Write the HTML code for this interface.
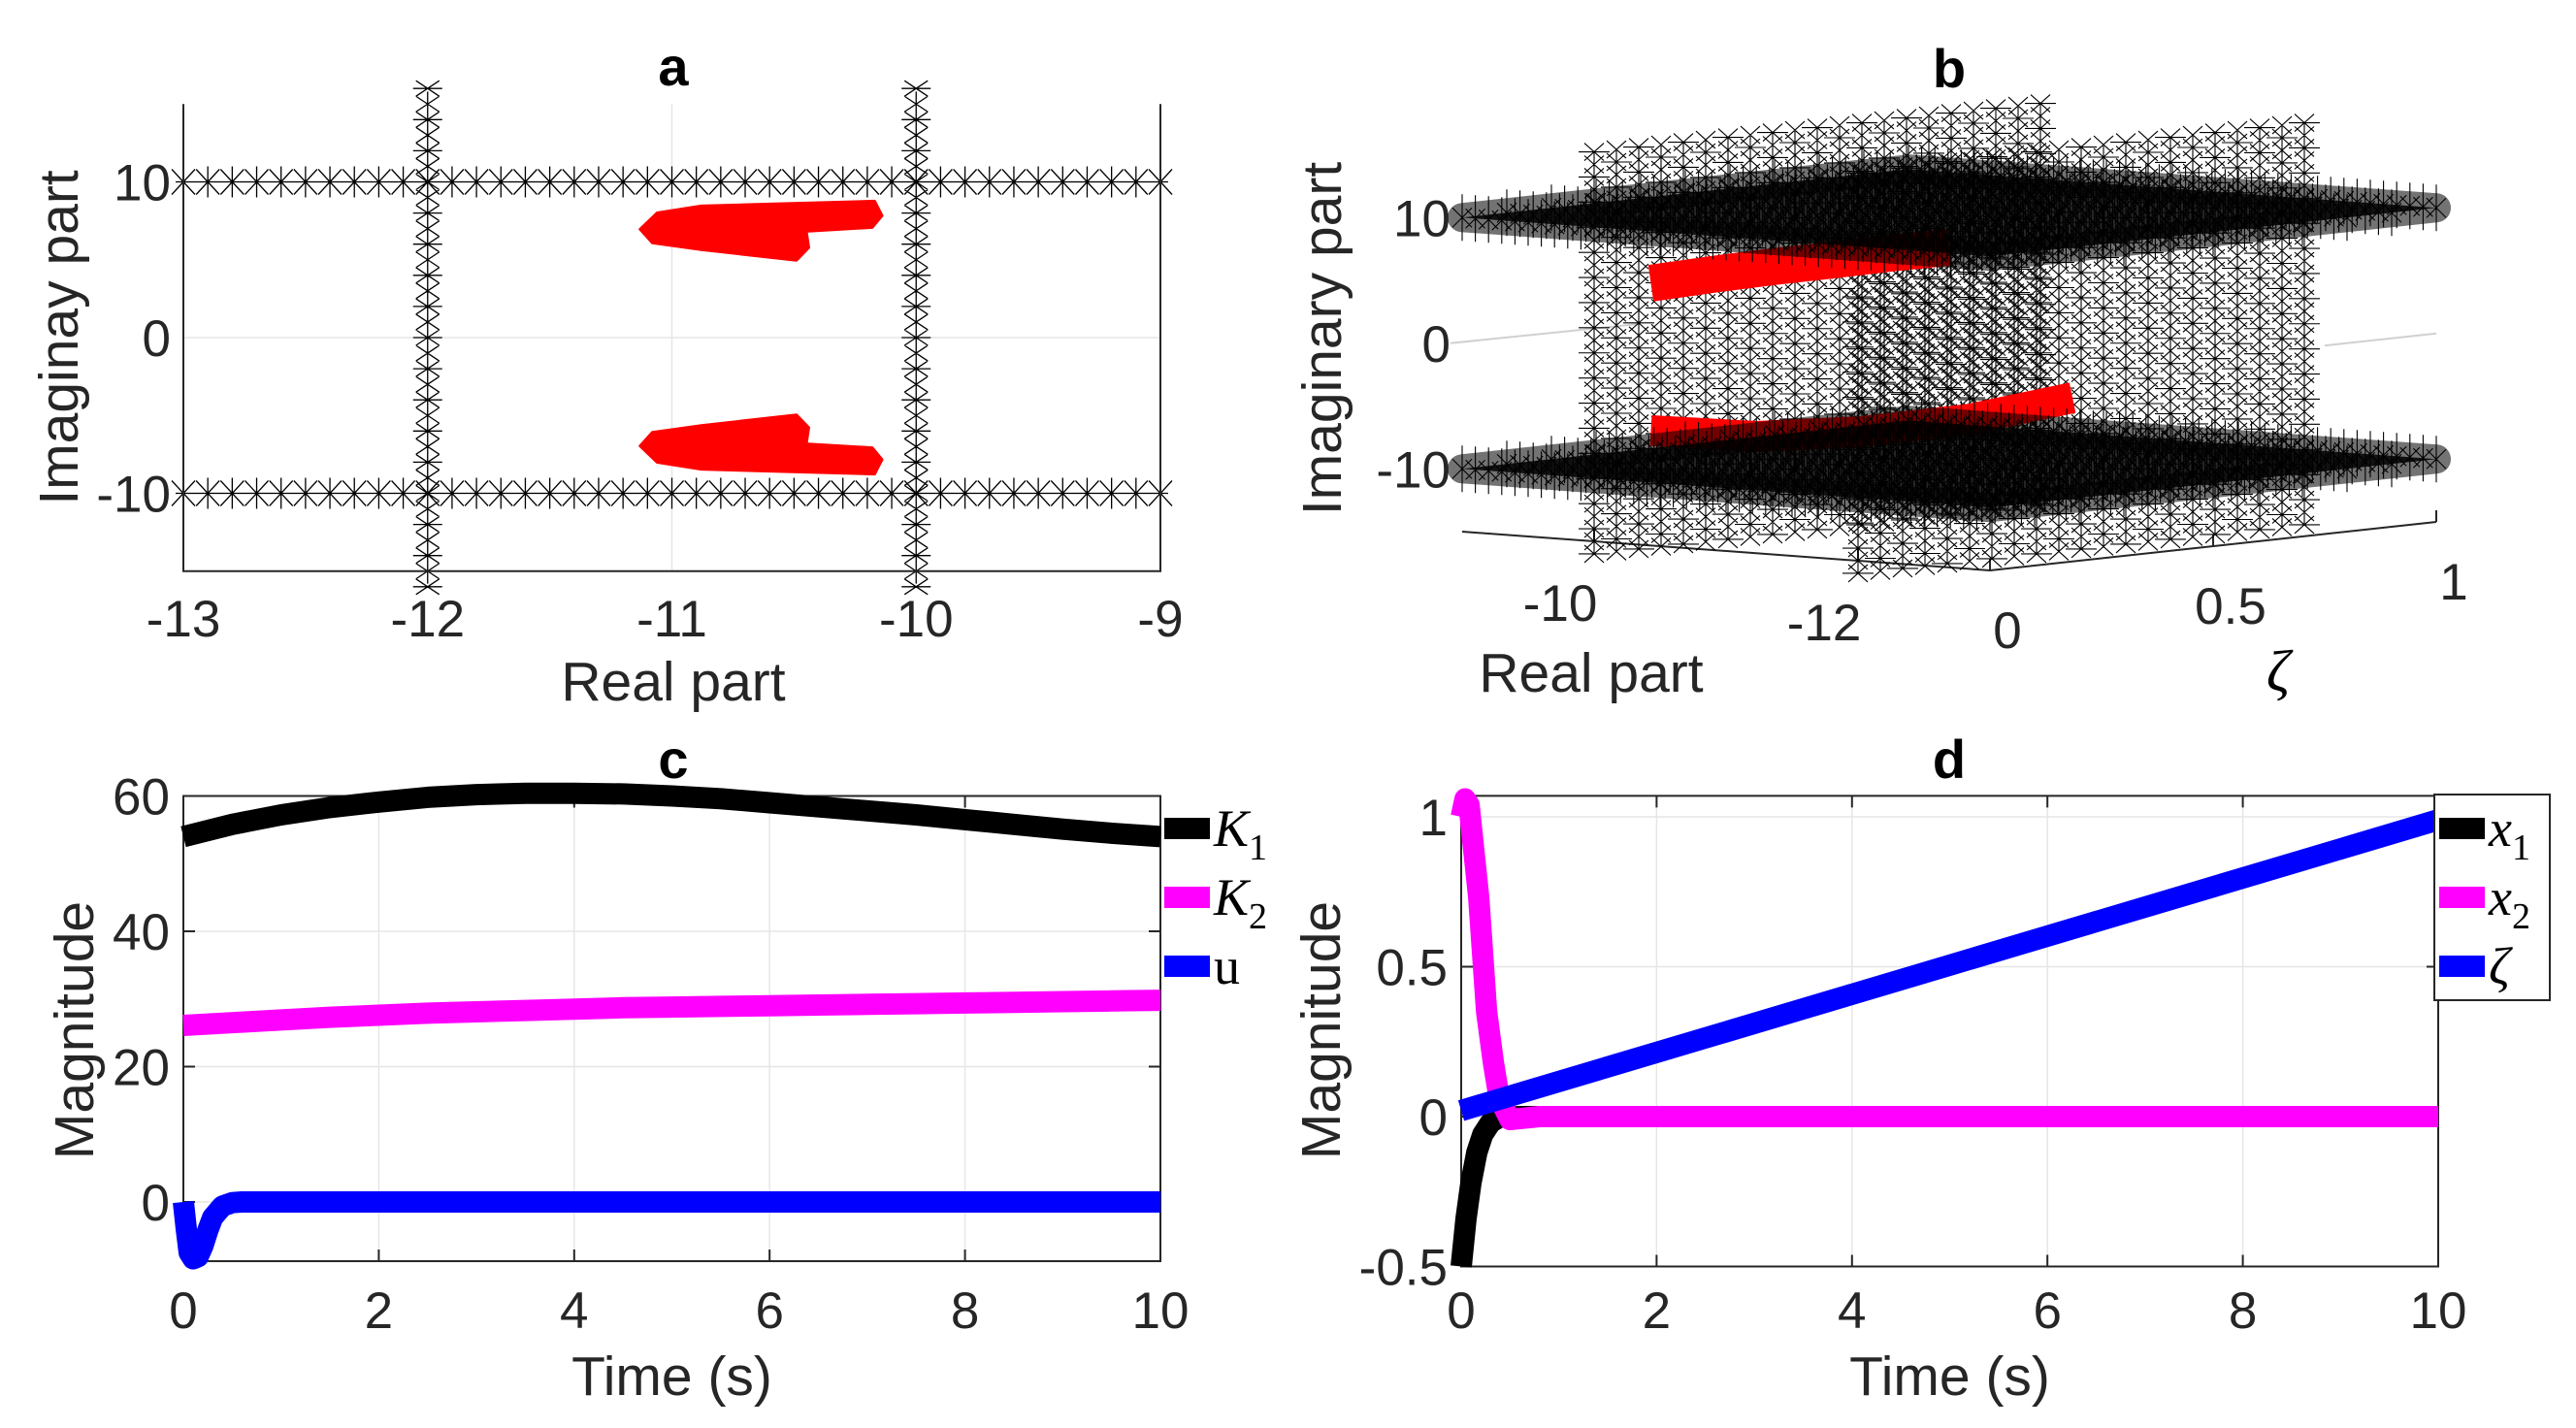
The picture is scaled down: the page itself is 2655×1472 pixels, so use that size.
<!DOCTYPE html>
<html><head><meta charset="utf-8"><style>
html,body{margin:0;padding:0;background:#fff;}
svg{display:block;font-family:"Liberation Sans",sans-serif;}
.tk{font-size:53px;fill:#262626;}
.lb{font-size:57px;fill:#262626;}
.ti{font-size:56px;font-weight:bold;fill:#000;}
.lg{font-family:"Liberation Serif",serif;font-style:italic;font-size:54px;fill:#000;}
.sub{font-family:"Liberation Serif",serif;font-style:normal;font-size:38px;}
</style></head><body>
<svg id="fig" width="2655" height="1472" viewBox="0 0 2655 1472" xmlns="http://www.w3.org/2000/svg">
<g id="pa"></g>
<g id="pb"></g>
<g id="pc"></g>
<g id="pd"></g>
</svg>
<script>
// ---------- data ----------
// panel a
const aXTicks=[-13,-12,-11,-10,-9];
const aYTicks=[-10,0,10];
const aRowImag=[10,-10];
const aColReal=[-12,-10];
const aPoleReal=[-11.13,-11.06,-10.88,-10.17,-10.14,-10.18,-10.45,-10.44,-10.49,-10.88,-11.08];
const aPoleImag=[6.96,8.01,8.45,8.76,7.83,7.08,6.83,5.78,4.97,5.65,6.09];
// panel b
const bRealTicks=[-10,-12];
const bZetaTicks=[0,0.5,1];
const bImTicks=[10,0,-10];
const bPlaneIm=[10,-10];
const bWallRe=[-10,-12];
const bUpZeta=[0,0.1,0.2,0.3,0.4,0.5];
const bUpRe=[-10.43,-10.55,-10.67,-10.79,-10.90,-11.0];
const bUpIm=[5.88,6.27,6.6,6.84,7.09,7.24];
const bLoZeta=[0,0.2,0.4,0.6,0.8];
const bLoRe=[-10.43,-10.55,-10.68,-10.82,-10.92];
const bLoIm=[-5.86,-7.01,-7.29,-6.96,-5.95];
// panel c
const cXTicks=[0,2,4,6,8,10];
const cYTicks=[0,20,40,60];
const cT=[0,0.5,1,1.5,2,2.5,3,3.5,4,4.5,5,5.5,6,6.5,7,7.5,8,8.5,9,9.5,10];
const cK1=[54,55.8,57.2,58.3,59.1,59.8,60.2,60.4,60.4,60.3,60.0,59.6,59.0,58.4,57.8,57.2,56.5,55.8,55.1,54.5,54.0];
const cK2=[26.1,26.5,26.9,27.3,27.6,27.9,28.1,28.3,28.5,28.7,28.8,28.9,29.0,29.1,29.2,29.3,29.4,29.5,29.6,29.7,29.8];
const cUT=[0,0.03,0.06,0.1,0.15,0.2,0.25,0.3,0.4,0.5,0.6,1,10];
const cU=[0,-4,-7.5,-8.4,-8.1,-6.5,-4.2,-2.3,-0.6,-0.1,0,0,0];
// panel d
const dXTicks=[0,2,4,6,8,10];
const dYTicks=[-0.5,0,0.5,1];
const dYTickLabels=["-0.5","0","0.5","1"];
const dX1T=[0,0.05,0.1,0.16,0.22,0.3,0.4,10];
const dX1=[-0.5,-0.34,-0.22,-0.12,-0.06,-0.02,0,0];
const dX2T=[0,0.04,0.08,0.18,0.26,0.33,0.39,0.5,0.8,10];
const dX2=[1.0,1.06,1.04,0.73,0.35,0.18,0.06,-0.01,0,0];
const dZT=[0,10];
const dZ=[0.02,0.99];

const NS="http://www.w3.org/2000/svg";
function mk(parent,tag,attrs,text){const e=document.createElementNS(NS,tag);for(const k in attrs)e.setAttribute(k,attrs[k]);if(text!==undefined)e.textContent=text;parent.appendChild(e);return e;}

// ---------- panel a ----------
(function(){
const g=document.getElementById('pa');
const ax=r=>189+(r+13)*251.75, ay=i=>348-i*16.05;
const L=ax(-13),R=ax(-9),T=ay(15),B=ay(-15);
aXTicks.forEach(v=>{const l=mk(g,'line',{x1:ax(v),x2:ax(v),y1:T,y2:B,stroke:'#e6e6e6','stroke-width':1.5});
});
aYTicks.forEach(v=>{const l=mk(g,'line',{x1:L,x2:R,y1:ay(v),y2:ay(v),stroke:'#e6e6e6','stroke-width':1.5});
});
let d='';
aRowImag.forEach(im=>{const y=ay(im);d+=`M${L-8} ${y}H${R+8}`;for(let k=0;k<=40;k++){const x=ax(-13+k*0.1);d+=`M${x-12} ${y-13}L${x+12} ${y+13}M${x-12} ${y+13}L${x+12} ${y-13}M${x} ${y-16}V${y+16}`;}});
aColReal.forEach(re=>{const x=ax(re);d+=`M${x} ${ay(15.8)}V${ay(-15.8)}`;for(let k=-16;k<=16;k++){const y=ay(k);d+=`M${x-12} ${y-8}L${x+12} ${y+8}M${x-12} ${y+8}L${x+12} ${y-8}`;if(k%2===0)d+=`M${x-15} ${y}H${x+15}`;}});
const m=mk(g,'path',{d:d,stroke:'#000','stroke-width':1.3,fill:'none'});

[1,-1].forEach((s,j)=>{const pts=aPoleReal.map((r,i)=>ax(r)+','+ay(s*aPoleImag[i])).join(' ');
const p=mk(g,'polygon',{points:pts,fill:'#ff0000',stroke:'#ff0000','stroke-width':3,'stroke-linejoin':'round'});
});
const ax1=mk(g,'path',{d:`M${L} ${T}V${B}H${R}V${T}`,stroke:'#262626','stroke-width':2,fill:'none'});

aXTicks.forEach(v=>{const t=mk(g,'text',{x:ax(v),y:656,'text-anchor':'middle',class:'tk'},String(v));
});
aYTicks.forEach(v=>{const t=mk(g,'text',{x:176,y:ay(v)+19,'text-anchor':'end',class:'tk'},String(v));
});
const t1=mk(g,'text',{x:694,y:88,'text-anchor':'middle',class:'ti'},'a');
const t2=mk(g,'text',{x:694,y:722,'text-anchor':'middle',class:'lb'},'Real part');
const t3=mk(g,'text',{x:0,y:0,'text-anchor':'middle',class:'lb',transform:'translate(80,348) rotate(-90)'},'Imaginay part');
})();

// ---------- panel b ----------
(function(){
const g=document.getElementById('pb');
const P=(re,z,im)=>[2051-136*(re+13)+460*z, 588-10*(re+13)-50*z-12.95*(im+15)];
const o=P(-13,0,-15),a1=P(-9,0,-15),a2=P(-13,1,-15);
const axl=mk(g,'path',{d:`M${a1[0]} ${a1[1]}L${o[0]} ${o[1]}L${a2[0]} ${a2[1]}`,stroke:'#262626','stroke-width':2,fill:'none'});

const zp1=P(-9,0,0),zp2=P(-9,0.4,0),zp3=P(-13,0.75,0),zp4=P(-13,1,0);
const zl=mk(g,'path',{d:`M${zp1[0]-12} ${zp1[1]}L${zp2[0]} ${zp2[1]}M${zp3[0]} ${zp3[1]}L${zp4[0]} ${zp4[1]}`,stroke:'#d0d0d0','stroke-width':2,fill:'none'});

let tk='';
bRealTicks.forEach(r=>{const p=P(r,0,-15);tk+=`M${p[0]} ${p[1]}v-12`;});
bZetaTicks.forEach(z=>{const p=P(-13,z,-15);tk+=`M${p[0]} ${p[1]}v-12`;});
mk(g,'path',{d:tk,stroke:'#262626','stroke-width':2});
// walls
let dw='';
bWallRe.forEach(re=>{for(let k=0;k<=20;k++){const z=k*0.05;const a=P(re,z,16),b=P(re,z,-16);dw+=`M${a[0]} ${a[1]}L${b[0]} ${b[1]}`;
for(let im=-16;im<=16;im+=1){const c=P(re,z,im);dw+=`M${c[0]-10} ${c[1]-9}L${c[0]+10} ${c[1]+9}M${c[0]-10} ${c[1]+9}L${c[0]+10} ${c[1]-9}`;if((k+im)%2===0)dw+=`M${c[0]-16} ${c[1]}H${c[0]+16}`;}}});
const w=mk(g,'path',{d:dw,stroke:'#000','stroke-width':1.1,fill:'none'});

// red bands
[[bUpZeta,bUpRe,bUpIm,38,'closed-loop-poles-upper'],[bLoZeta,bLoRe,bLoIm,32,'closed-loop-poles-lower']].forEach(s=>{
const pts=s[0].map((z,i)=>P(s[1][i],z,s[2][i]).join(',')).join(' ');
const l=mk(g,'polyline',{points:pts,stroke:'#ff0000','stroke-width':s[3],fill:'none','stroke-linejoin':'round'});
});
// planes
bPlaneIm.forEach(im=>{let dp='';
const c1=P(-9,0,im),c2=P(-13,0,im),c3=P(-13,1,im),c4=P(-9,1,im);
const poly=mk(g,'polygon',{points:[c1,c2,c3,c4].map(p=>p.join(',')).join(' '),fill:'#000',stroke:'#000','stroke-width':30,'stroke-linejoin':'round','fill-opacity':0.85,'stroke-opacity':0.55});

for(let i=0;i<=40;i++)for(let k=0;k<=10;k++){const c=P(-13+i*0.1,k*0.1,im);dp+=`M${c[0]-10} ${c[1]-10}L${c[0]+10} ${c[1]+10}M${c[0]-10} ${c[1]+10}L${c[0]+10} ${c[1]-10}M${c[0]} ${c[1]-24}V${c[1]+24}`;}
const pl=mk(g,'path',{d:dp,stroke:'#000','stroke-width':1.1,fill:'none'});
});
// labels
bImTicks.forEach(v=>{const p=P(-9,0,v);const t=mk(g,'text',{x:p[0]-12,y:p[1]+19,'text-anchor':'end',class:'tk'},String(v));
});
bRealTicks.forEach(v=>{const p=P(v,0,-15);const t=mk(g,'text',{x:p[0]-35,y:p[1]+82,'text-anchor':'middle',class:'tk'},String(v));
});
bZetaTicks.forEach(v=>{const p=P(-13,v,-15);const t=mk(g,'text',{x:p[0]+18,y:p[1]+80,'text-anchor':'middle',class:'tk'},String(v));
});
const t1=mk(g,'text',{x:2009,y:90,'text-anchor':'middle',class:'ti'},'b');
const t2=mk(g,'text',{x:1640,y:713,'text-anchor':'middle',class:'lb'},'Real part');
const t3=mk(g,'text',{x:2348,y:712,'text-anchor':'middle',class:'lg',style:'font-size:60px'},'ζ');
const t4=mk(g,'text',{x:0,y:0,'text-anchor':'middle',class:'lb',transform:'translate(1382,349) rotate(-90)'},'Imaginary part');
})();

// ---------- line panels ----------
function linePanel(id,x0,x1,y0,yTicks,yLabels,sx,sy,series,legend,title,tx,ylx,box){
const g=document.getElementById(id);
const L=sx(0),R=sx(10),T=sy(y0[1]),B=sy(y0[0]);
x0.forEach(v=>{const l=mk(g,'line',{x1:sx(v),x2:sx(v),y1:T,y2:B,stroke:'#e6e6e6','stroke-width':1.5});
});
yTicks.forEach(v=>{const l=mk(g,'line',{x1:L,x2:R,y1:sy(v),y2:sy(v),stroke:'#e6e6e6','stroke-width':1.5});
});
let tk='';x0.forEach(v=>{tk+=`M${sx(v)} ${B}v-12M${sx(v)} ${T}v12`;});yTicks.forEach(v=>{tk+=`M${L} ${sy(v)}h12M${R} ${sy(v)}h-12`;});
mk(g,'path',{d:tk,stroke:'#262626','stroke-width':2});
const bx=mk(g,'rect',{x:L,y:T,width:R-L,height:B-T,fill:'none',stroke:'#262626','stroke-width':2});

series.forEach(s=>{const pts=s.t.map((t,i)=>sx(t).toFixed(1)+','+sy(s.v[i]).toFixed(1)).join(' ');
const l=mk(g,'polyline',{points:pts,fill:'none',stroke:s.c,'stroke-width':22,'stroke-linejoin':'round'});
});
x0.forEach(v=>{const t=mk(g,'text',{x:sx(v),y:1369,'text-anchor':'middle',class:'tk'},String(v));
});
yTicks.forEach((v,i)=>{const t=mk(g,'text',{x:L-14,y:sy(v)+19,'text-anchor':'end',class:'tk'},yLabels[i]);
});
const t1=mk(g,'text',{x:tx,y:802,'text-anchor':'middle',class:'ti'},title);
const t2=mk(g,'text',{x:(L+R)/2,y:1438,'text-anchor':'middle',class:'lb'},'Time (s)');
const t3=mk(g,'text',{x:0,y:0,'text-anchor':'middle',class:'lb',transform:`translate(${ylx},1062) rotate(-90)`},'Magnitude');
const lg=mk(g,'g',{});
if(box){const r=mk(lg,'rect',{x:box[0],y:box[1],width:box[2],height:box[3],fill:'#fff',stroke:'#262626','stroke-width':2});}
legend.forEach((e,i)=>{const y=[854,925,996][i];
const sw=mk(lg,'rect',{x:e.x,y:y-11,width:47,height:22,fill:e.c});
const t=mk(lg,'text',{x:e.x+51,y:y+18,class:'lg'});
mk(t,'tspan',{},e.m);if(e.s){mk(t,'tspan',{class:'sub',dy:14},e.s);}
if(e.up){t.setAttribute('style','font-style:normal');}});
}
linePanel('pc',cXTicks,null,[-8.75,60],cYTicks,cYTicks.map(String),t=>189+t*100.7,v=>1239-v*6.975,
[{t:cT,v:cK1,c:'#000',n:'series-k1'},{t:cT,v:cK2,c:'#ff00ff',n:'series-k2'},{t:cUT,v:cU,c:'#0000ff',n:'series-u'}],
[{x:1200,c:'#000',m:'K',s:'1'},{x:1200,c:'#ff00ff',m:'K',s:'2'},{x:1200,c:'#0000ff',m:'u',up:true}],'c',694,96,null);
linePanel('pd',dXTicks,null,[-0.5,1.07],dYTicks,dYTickLabels,t=>1506+t*100.7,v=>1151-v*309,
[{t:dX1T,v:dX1,c:'#000',n:'series-x1'},{t:dX2T,v:dX2,c:'#ff00ff',n:'series-x2'},{t:dZT,v:dZ,c:'#0000ff',n:'series-zeta'}],
[{x:2514,c:'#000',m:'x',s:'1'},{x:2514,c:'#ff00ff',m:'x',s:'2'},{x:2514,c:'#0000ff',m:'ζ'}],'d',2009,1381,[2509,819,119,212]);
</script>
</body></html>
